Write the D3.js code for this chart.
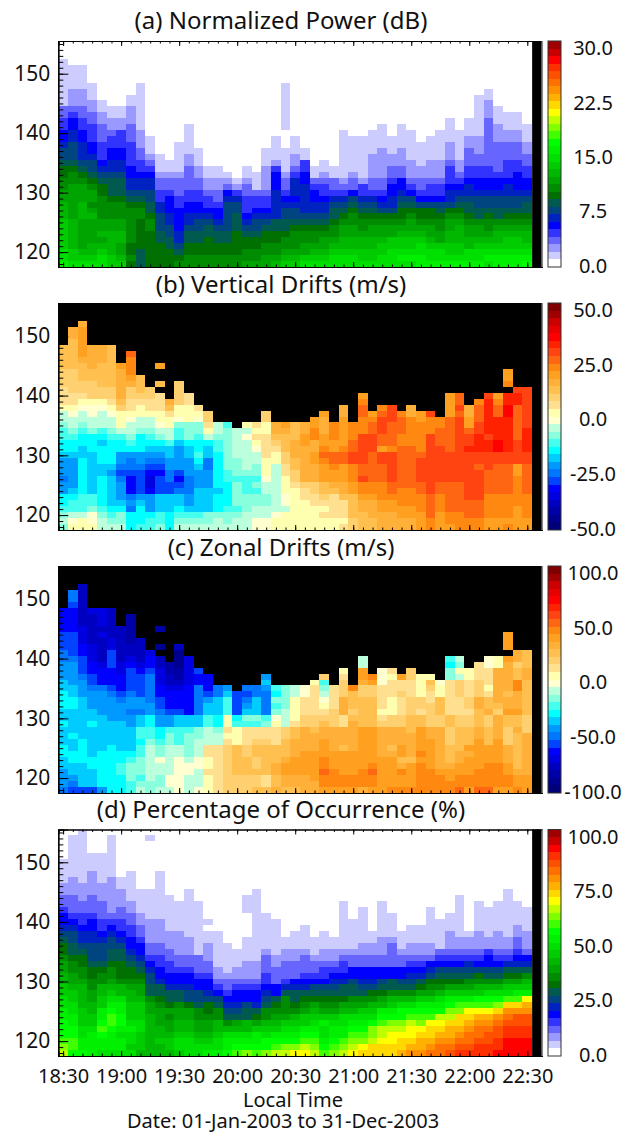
<!DOCTYPE html>
<html>
<head>
<meta charset="utf-8">
<script src="https://d3js.org/d3.v7.min.js"></script>
<style>
	body { margin: 0; background: #fff; }
	text { font-family: "Noto Sans", sans-serif; fill: #111; }
</style>
</head>
<body>
<svg width="630" height="1132"></svg>
<script>
// Each panel: one list per 5 min column (18:30 ... 22:30).
// A list goes from the lowest altitude (118 km) up, entries are the colour bar bin (0-29).
// null = no data inside the column, shorter list = no data above.
var powerBins = [
	[15,14,14,13,13, 13,13,13,12,12, 12,11,11,10,10, 9,9,8,7,7, 6,5,5,4,4, 3,3,1,1,1, 1,1,1,1,1],
	[14,13,13,12,12, 12,12,12,11,11, 11,11,11,11,10, 10,9,8,7,7, 7,6,6,5,5, 4,3,2,2,2, 1,1,1,1],
	[14,13,12,11,11, 11,11,11,12,12, 12,11,11,11,10, 9,8,7,6,6, 6,5,5,4,4, 3,3,2,2,2, 1,1,1,1],
	[14,13,12,12,11, 11,11,11,12,11, 10,11,11,10,9, 8,7,7,6,5, 5,4,4,4,3, 3,2,2,1,1, 1],
	[14,14,13,12,11, 12,11,11,10,10, 10,10,9,9,8, 7,6,5,4,4, 4,3,3,3,2, 2,1,1],
	[13,13,12,12,12, 12,11,11,10,10, 10,9,8,8,8, 7,6,6,5,5, 4,4,3,2,2, 1,1],
	[13,12,11,11,12, 12,11,11,10,10, 10,9,8,8,8, 7,6,6,5,5, 4,4,4,2,2, 1,1],
	[9,10,9,9,10, 10,10,10,10,10, 9,8,7,6,6, 5,5,4,4,4, 4,3,3,3,2, 2,2,1,1],
	[8,8,8,9,9, 9,9,9,10,10, 9,8,7,6,6, 5,4,4,3,3, 2,2,2,1,1, 1,1,1,1,1, 1],
	[9,9,9,9,9, 9,10,10,9,8, 8,7,7,6,6, 5,4,3,2,1, 1,1],
	[9,9,9,9,8, 8,7,7,7,6, 6,4,4,3,3, 2,1,1,1],
	[9,9,9,8,8, 7,7,6,6,5, 5,5,4,3,3, 2,1,1],
	[10,9,8,7,6, 6,5,5,5,5, 4,4,3,3,3, 2,1,1,1,1, 1],
	[10,10,9,9,8, 8,7,6,6,5, 5,4,4,3,3, 3,3,2,2,1, 1,1,1,1],
	[10,10,9,9,8, 8,7,7,6,5, 5,4,4,3,3, 2,2,1,1,1],
	[10,10,9,9,9, 8,8,7,6,5, 4,4,3,2,2, 1,1],
	[10,10,9,9,8, 8,7,6,5,5, 4,3,3,2,2, 1,1],
	[10,10,9,9,8, 8,7,7,7,7, 7,6,5,3,2, 1],
	[10,10,9,9,9, 9,8,8,8,7, 7,6,4,2,1],
	[11,10,10,9,9, 8,7,6,5,4, 4,4,3,3,2, 1,1],
	[11,10,10,9,9, 8,7,7,6,5, 4,4,3,1,1, 1],
	[11,11,10,10,9, 9,8,7,6,5, 4,4,3,2,2, 2,2,1,1,1],
	[12,11,10,10,9, 9,8,8,6,6, 6,6,6,5,5, 5,4,2,1,1, 1,1],
	[13,12,11,10,10, 9,8,8,7,7, 6,5,4,3,3, 2,1,1,1,1, 0,0,0,1,1, 1,1,1,1,1, 1],
	[13,12,11,10,10, 10,9,8,7,7, 6,5,6,6,6, 4,3,2,2,1, 1,1],
	[14,13,11,11,10, 10,9,8,7,6, 6,6,6,6,5, 5,4,4,1,1],
	[14,13,12,11,10, 10,9,8,7,6, 6,5,5,4,3, 1,1],
	[14,13,12,11,11, 10,9,8,7,6, 6,5,4,4,3, 2,1,1],
	[14,14,13,12,11, 10,10,9,8,8, 7,6,4,3,3, 1,1],
	[14,14,13,12,12, 11,11,10,9,8, 7,6,4,3,2, 1,1,1,1,1, 1,1,1],
	[14,14,13,12,12, 11,11,10,10,9, 8,7,5,3,3, 2,1,1,1,1, 1,1],
	[14,13,13,12,12, 11,10,10,9,8, 7,6,4,4,2, 1,1,1,1,1, 1,1],
	[14,13,13,12,12, 11,11,10,9,8, 7,6,4,3,3, 2,2,2,2,1, 1,1,1],
	[14,14,13,13,12, 11,11,10,9,7, 6,5,4,3,3, 2,2,2,2,2, 1,1,1,1],
	[14,14,14,13,13, 11,11,10,9,7, 6,6,5,5,4, 3,3,2,2,1, 1,1],
	[14,15,14,13,13, 12,11,10,9,9, 8,7,6,5,5, 3,3,2,2,2, 1,1,1,1],
	[14,15,14,13,13, 12,11,11,10,9, 8,7,5,4,3, 2,2,2,1,1, 1,1,1],
	[15,15,14,14,13, 12,11,10,9,9, 7,5,4,3,3, 2,2,1,1,1, 1],
	[15,14,14,13,12, 11,11,10,9,9, 7,5,4,4,3, 2,2,2,1,1, 1,1],
	[15,14,14,13,11, 11,10,10,9,8, 7,5,4,4,3, 2,2,2,1,1, 1,1,1],
	[15,14,13,13,12, 12,11,11,10,9, 7,6,6,5,4, 4,4,3,2,2, 2,1,1,1,1],
	[15,14,13,13,12, 12,12,11,10,9, 8,7,6,5,4, 3,2,2,1,1, 1,1,1],
	[15,14,14,12,12, 11,11,10,9,8, 8,7,6,6,5, 4,4,3,3,3, 2,2,1,1,1],
	[15,14,14,13,12, 11,11,10,8,8, 7,7,6,5,5, 4,4,3,3,2, 2,2,1,1,1, 1,1,1,1],
	[14,15,14,13,12, 11,10,10,9,8, 7,7,6,5,5, 4,4,3,3,3, 3,3,3,3,3, 2,2,2,1,1],
	[15,15,14,13,12, 12,11,10,8,8, 7,7,6,5,5, 4,3,3,3,3, 3,2,2,2,1, 1,1],
	[15,15,14,13,13, 12,11,10,9,8, 7,7,6,6,5, 4,4,4,3,3, 3,2,2,1,1, 1],
	[15,15,14,13,13, 12,11,10,9,8, 7,7,6,5,5, 5,4,4,3,3, 3,2,2,1,1, 1],
	[16,15,14,13,12, 12,11,10,9,8, 8,7,6,5,5, 4,4,3,3,2, 2,1,1,1]
];

var verticalBins = [
	[12,13,12,11,10, 10,8,8,7,8, 8,8,9,10,10, 11,11,12,13,13, 15,16,16,16,17, 17,17,18,18,18, 18],
	[15,14,13,11,11, 10,9,8,8,8, 8,8,9,10,10, 11,12,13,13,14, 15,16,16,17,17, 17,17,18,18,18, 18,18,19,19],
	[15,15,13,11,11, 11,10,10,10,10, 10,10,9,9,10, 10,11,12,13,13, 14,15,16,17,17, 18,18,18,19,20, 20,20,20,20,19],
	[15,14,14,12,11, 11,9,9,9,9, 9,9,9,10,10, 10,12,13,13,14, 14,15,17,17,17, 18,18,19,19,19, 19],
	[13,13,12,11,10, 10,10,10,10,9, 9,10,10,10,9, 10,11,13,13,13, 14,15,17,17,18, 18,18,18,19,19, 19],
	[13,12,11,10,9, 9,9,9,9,8, 9,10,10,10,10, 11,12,13,13,14, 15,16,17,17,18, 18,18,18,18,18, 18],
	[13,12,12,10,9, 8,8,8,7,6, 7,8,8,10,10, 11,13,15,15,15, 17,18,19,19,19, 19,19,20],
	[10,10,10,7,8, 7,5,5,5,6, 7,7,8,10,11, 12,13,13,14,15, 16,16,17,17,19, 20,21,21,21,22],
	[11,10,10,10,9, 8,6,6,6,6, 7,8,8,10,10, 10,12,13,13,15, 15,16,17,18,18, 18],
	[11,11,10,8,8, 8,5,4,4,5, 6,7,8,9,10, 11,12,13,13,15, 16,16,17,17],
	[12,11,11,9,9, 9,6,6,6,5, 6,7,8,9,10, 12,13,14,15,15, 16,16,16,null,18, null,null,20],
	[10,10,10,9,9, 9,6,6,7,7, 8,8,9,9,11, 13,13,15,15,16, 18,19],
	[13,12,11,10,9, 9,7,6,5,6, 8,8,8,8,9, 11,11,12,14,15, 15,17,17,17,17],
	[13,12,11,9,8, 8,7,7,7,8, 8,8,9,9,10, 12,12,12,15,15, 15,16,16],
	[13,12,11,9,9, 9,9,8,8,8, 9,10,11,10,10, 11,12,12,14,15, 16],
	[13,12,12,9,9, 9,9,8,8,8, 7,7,9,9,10, 13,15,16,17,17],
	[13,13,12,10,10, 10,9,10,10,10, 10,10,10,11,11, 12,13,13],
	[13,12,12,11,10, 10,10,10,11,11, 12,12,12,12,12, 12,12,11],
	[13,13,12,11,12, 12,12,12,11,12, 12,12,13,13,13, 13,13],
	[13,13,13,12,12, 12,11,11,11,12, 13,13,13,13,13, 14,13,15],
	[14,14,13,13,12, 12,11,12,11,12, 12,13,13,14,15, 16,15,16],
	[14,14,13,13,12, 12,13,13,14,15, 15,15,16,16,16, 16,15,15,17,17],
	[15,15,14,13,13, 13,13,13,13,13, 13,15,15,16,17, 18,19,19],
	[15,15,15,13,14, 14,15,15,15,16, 16,17,17,18,18, 18,19,20],
	[15,15,15,15,15, 15,15,16,17,17, 18,18,19,19,19, 18,18,18],
	[15,15,15,15,15, 16,16,17,19,19, 19,19,19,19,20, 20,19,19],
	[15,15,15,15,16, 16,17,17,19,19, 19,20,20,19,19, 21,21,20,20],
	[15,15,16,15,16, 17,18,18,20,20, 20,21,22,21,20, 20,19,19,19,20],
	[15,15,16,16,16, 16,18,19,20,20, 21,22,22,20,20, 21,21,21],
	[16,15,16,16,16, 18,19,19,20,20, 20,22,22,21,20, 20,20,20,20,19, 19],
	[17,17,18,18,18, 18,20,20,21,21, 21,23,23,22,22, 21,21,21],
	[18,18,18,19,19, 20,21,21,23,22, 22,23,23,23,23, 23,21,21,21,22, 22,21,20],
	[18,18,19,19,19, 20,21,21,22,22, 22,22,22,23,23, 23,22,22,21,20],
	[19,19,19,20,20, 21,21,21,22,22, 22,23,23,20,22, 22,23,23,23,22, 21],
	[19,19,19,20,20, 21,22,22,23,23, 23,23,23,21,22, 22,22,22,23,23, 23],
	[19,19,20,20,21, 21,21,22,22,22, 22,22,22,22,21, 21,22,22,22,21],
	[19,19,20,20,21, 21,21,22,22,22, 22,22,22,22,21, 21,21,21,21,19, 19],
	[20,20,20,21,21, 21,22,22,23,23, 23,23,22,21,21, 21,21,21,20,20],
	[21,21,22,22,22, 22,23,23,23,23, 23,23,23,23,23, 23,21,21,21,23],
	[20,20,20,21,21, 21,22,22,23,23, 23,23,23,23,22, 22,22,21,21],
	[20,21,21,22,22, 22,22,22,23,23, 23,23,23,22,22, 22,22,22,22,20, 20,20,20],
	[21,21,21,22,22, 22,22,22,23,23, 23,23,23,23,23, 23,23,23,23,22, 23,22,22],
	[21,21,22,22,22, 23,23,23,23,23, 23,23,23,24,23, 23,22,20,20,19, 19],
	[21,21,22,22,22, 23,23,23,23,23, 22,23,23,24,24, 24,23,23,22,22, 22,21],
	[20,20,21,21,21, 21,22,22,22,22, 23,23,23,24,24, 23,24,24,24,24, 24,24,23],
	[20,20,21,21,21, 21,22,22,22,22, 22,23,23,25,25, 24,24,24,24,22, 22,21,20],
	[21,20,21,21,21, 21,22,22,22,22, 22,23,23,24,24, 24,24,24,24,25, 25,24,24,null,21, 20,20],
	[20,20,20,20,21, 21,21,21,21,20, 20,23,23,23,23, 22,22,22,22,22, 22,24,24,23],
	[20,20,21,21,21, 21,22,22,22,22, 22,23,23,24,24, 24,24,23,23,23, 23,23,23,23]
];

var zonalBins = [
	[7,8,8,8,9, 9,10,10,9,9, 9,10,9,9,10, 10,10,9,9,8, 8,8,7,7,6, 6,6,5,5,5, 5],
	[6,7,8,9,9, 10,10,9,9,10, 9,9,9,9,10, 10,9,9,8,8, 8,8,7,6,6, 6,6,5,5,5, 5,6,7,7],
	[6,9,9,9,9, 10,10,10,10,9, 9,9,9,9,9, 9,8,8,8,7, 6,6,6,5,5, 4,4,4,3,3, 3,3,3,3,3],
	[6,9,9,9,10, 10,9,9,9,9, 9,10,9,9,8, 8,8,7,6,6, 5,5,4,4,4, 3,3,3,3,3, 4],
	[8,10,10,10,10, 10,10,9,9,9, 9,9,9,8,8, 8,8,7,5,5, 5,4,3,3,3, 3,4,3,4,4, 4],
	[10,10,10,10,10, 10,10,10,9,9, 9,9,8,8,8, 8,7,6,5,5, 5,6,6,6,4, 4,3,3,3,3, 3],
	[10,10,10,11,11, 10,10,9,9,9, 9,9,8,8,8, 7,6,5,5,5, 4,4,3,3,3, 3,3,3],
	[11,11,12,12,12, 11,10,9,9,9, 9,8,8,7,8, 8,7,6,6,6, 6,5,4,3,3, 2,2,2,2,2],
	[13,12,11,12,12, 12,11,11,10,11, 11,9,9,7,8, 8,6,6,6,6, 5,4,3,3,3, 3],
	[12,12,13,13,13, 13,13,13,12,11, 11,10,10,8,8, 7,7,7,7,7, 6,5,5,4],
	[13,12,12,13,13, 14,12,12,11,10, 10,8,8,7,6, 6,5,5,4,4, 4,3,3,null,1, null,null,2],
	[13,14,14,13,13, 13,13,13,12,12, 11,8,8,6,5, 5,5,4,3,3, 2,2],
	[14,14,14,14,14, 14,13,13,11,11, 11,9,9,6,5, 5,5,4,3,2, 2,1,1,1,3],
	[13,13,13,14,14, 13,12,12,12,12, 11,9,9,5,5, 5,5,5,4,4, 4,4,4],
	[14,13,13,13,14, 14,13,13,13,12, 12,9,9,7,7, 7,7,7,5,5, 6],
	[15,15,15,16,15, 15,16,16,13,13, 13,11,11,9,9, 8,6,5,5,5],
	[16,16,16,16,16, 16,16,16,13,13, 12,10,10,9,9, 9,7,7],
	[17,17,17,17,17, 17,17,17,16,15, 16,15,15,11,11, 11,9,8],
	[17,17,17,18,18, 18,18,18,15,15, 15,11,10,6,6, 6,6],
	[17,17,17,18,18, 18,17,17,16,16, 16,11,12,9,8, 7,6,7],
	[18,17,17,18,17, 17,18,18,17,16, 16,11,12,9,9, 9,7,7],
	[18,16,16,18,18, 18,18,18,17,16, 16,12,11,7,7, 7,7,8,9,8],
	[19,18,18,19,19, 18,18,18,16,16, 16,15,14,12,11, 12,10,11],
	[18,19,19,20,20, 19,18,18,18,17, 17,13,13,13,12, 12,12,12],
	[18,19,19,20,20, 20,19,19,19,18, 18,16,15,15,15, 15,13,13],
	[19,19,19,20,20, 20,20,19,19,19, 19,17,17,16,16, 16,14,14],
	[19,19,20,20,20, 20,20,19,19,19, 18,17,17,16,16, 16,16,16,15],
	[20,21,21,22,21, 21,20,20,20,19, 19,18,17,16,15, 14,13,12,11,17],
	[20,21,21,21,20, 20,20,19,19,19, 19,17,17,17,16, 16,16,16],
	[20,21,21,20,20, 20,20,18,19,19, 19,16,16,19,19, 19,17,17,17,16, 15],
	[20,21,21,20,20, 20,20,19,19,19, 19,19,18,17,18, 18,18,21],
	[19,21,21,21,20, 20,20,20,20,20, 20,18,18,18,18, 18,17,17,19,20, 20,13,13],
	[20,21,21,22,21, 20,20,20,20,20, 20,18,18,18,18, 18,17,17,20,21],
	[20,20,20,20,20, 20,19,19,19,19, 19,17,16,15,16, 16,16,16,14,14, 14],
	[21,20,20,20,20, 20,19,18,19,19, 19,17,17,15,15, 15,16,16,16,15, 16],
	[21,20,20,21,19, 18,20,20,19,19, 19,17,17,16,16, 16,17,16,16,20],
	[21,20,20,20,20, 18,19,19,19,19, 18,18,18,17,17, 17,16,16,16,17, 17],
	[21,21,21,21,21, 20,21,20,20,20, 20,18,18,16,17, 17,15,15,15,15],
	[21,21,21,21,20, 20,20,20,20,19, 19,17,17,17,17, 16,16,17,18,15],
	[21,21,21,20,19, 19,19,19,19,19, 19,17,17,18,18, 18,15,15,14],
	[21,21,20,20,19, 18,18,18,17,17, 17,18,18,16,16, 16,16,16,16,12, 12,10,11],
	[22,21,21,20,20, 19,19,18,18,18, 18,17,17,16,16, 16,17,17,17,13, 15,12,13],
	[20,21,21,20,20, 20,19,20,18,18, 18,17,17,16,17, 17,16,16,16,15, 15],
	[22,21,21,21,20, 20,20,20,20,19, 19,18,18,18,19, 19,17,17,17,16, 16,16],
	[22,21,21,21,21, 20,20,20,18,18, 18,17,17,19,18, 18,16,15,16,16, 16,14,14],
	[20,21,21,21,21, 20,20,20,20,19, 19,19,19,17,18, 19,19,19,19,19, 19,15,15],
	[20,21,21,20,20, 19,19,19,17,17, 17,18,18,20,19, 19,18,19,19,19, 19,19,20,null,20, 20,20],
	[21,20,20,19,18, 18,18,18,18,18, 19,18,18,20,19, 19,19,21,21,18, 18,17,19,19],
	[20,20,20,19,19, 19,19,19,19,19, 17,17,17,18,18, 18,18,18,18,19, 19,18,18,18]
];

var occurrenceBins = [
	[19,18,17,16,16, 16,15,15,14,14, 13,13,12,12,11, 11,10,9,9,8, 7,6,5,5,4, 3,3,2,2,1, 1,1,1],
	[16,17,17,16,16, 15,15,14,14,13, 13,12,11,11,10, 10,9,8,8,7, 7,6,5,4,3, 3,3,2,2,2, 1,1,1,1,1, 1,1],
	[16,15,15,14,14, 13,13,13,12,12, 12,12,11,10,10, 9,9,8,7,6, 6,5,4,4,3, 3,2,2,2,1, 1,1,1,1,1, 1,1,1],
	[15,15,15,15,14, 13,13,12,12,11, 11,10,10,9,9, 8,7,7,7,6, 6,5,5,4,3, 3,3,2,2,2, 2,1,1,1],
	[14,15,15,16,17, 16,15,15,13,13, 12,12,10,10,9, 8,7,7,7,6, 5,4,4,3,3, 3,2,2,2,1, 1,1,1,1],
	[14,15,15,15,16, 17,17,16,15,14, 13,12,11,10,10, 9,8,8,7,7, 6,5,4,3,2, 2,2,2,2,2, 1,1,1,1,1, 1,1],
	[14,15,15,14,15, 16,16,15,15,14, 12,12,10,9,9, 9,8,8,7,6, 5,4,4,3,3, 2,2,2,1,1],
	[14,13,14,14,15, 14,13,13,13,12, 12,11,10,9,9, 8,7,6,5,5, 4,4,3,3,2, 2,1,1,1,1, 1],
	[12,13,13,13,14, 14,13,13,13,12, 11,11,10,9,8, 7,6,5,5,4, 3,3,2,2,1, 1,1,1],
	[12,12,12,12,12, 12,12,11,11,10, 8,8,7,7,6, 5,4,3,3,2, 2,2,2,1,1, 1,1,1,0,0, 0,0,0,0,0, 0,1],
	[12,12,13,12,12, 11,11,11,10,9, 8,8,6,5,5, 4,4,3,3,2, 2,2,2,1,1, 1,1,1,1,1, 1],
	[12,13,13,12,11, 11,10,11,9,8, 8,6,5,5,4, 4,3,3,2,2, 2,1,1,1,1, 1,1],
	[13,14,14,13,12, 12,11,11,10,8, 8,6,5,5,4, 3,3,2,2,2, 2,1,1,1,1, 1],
	[14,14,14,13,12, 12,11,11,9,7, 7,6,5,5,4, 3,3,2,2,2, 1,1,1,1,1, 1,1,1],
	[14,14,13,12,11, 11,10,10,8,7, 7,5,5,4,3, 3,3,1,1,1, 1,1,1,1,1, 1],
	[15,14,13,12,11, 11,10,9,9,7, 6,5,5,4,3, 3,2,2,2,1, 1,0,1],
	[15,14,14,13,12, 12,10,10,8,7, 5,4,3,2,2, 1,1,1,1,1, 1],
	[16,15,15,14,12, 10,8,7,6,5, 4,3,3,2,1, 1,1,1,1],
	[17,16,15,14,12, 11,8,7,6,5, 5,4,3,2,2, 1,1,1],
	[18,16,15,14,12, 12,8,8,7,5, 5,4,3,2,2, 2,1,1,1,1, 0,0,0,0,1, 1,1],
	[17,16,15,15,13, 11,9,8,6,5, 5,4,3,2,2, 2,1,1,1,1, 1,1,1,1,1, 1,1,1],
	[18,16,16,14,13, 12,10,10,8,7, 6,5,4,4,3, 3,3,2,1,1, 1,1,1,1],
	[19,17,16,15,13, 12,11,10,9,8, 5,5,3,3,3, 2,2,1,1,1, 1,1,1],
	[19,18,16,15,14, 13,11,10,10,10, 8,6,4,3,3, 3,2,2,1,1],
	[20,18,16,15,14, 13,12,10,9,8, 8,6,5,3,3, 3,2,2,1,1, 1],
	[20,19,17,16,15, 13,13,11,10,9, 8,6,5,4,3, 3,3,2,1,1, 1,1],
	[19,18,17,16,15, 14,13,12,11,9, 8,7,5,4,3, 3,2,1,1,1],
	[17,16,15,14,14, 15,13,11,10,9, 8,7,5,4,4, 3,2,2,1,1, 1],
	[18,17,16,15,15, 14,13,11,10,9, 8,7,6,5,4, 3,2,2,1,1],
	[19,18,17,15,15, 14,14,12,11,9, 8,8,6,5,4, 4,3,2,1,1, 1,1,1,1,1, 1],
	[20,19,18,17,16, 15,14,12,11,10, 8,8,7,5,5, 3,3,2,1,1, 1,1,1],
	[21,20,18,17,16, 15,14,13,11,10, 8,7,6,5,5, 3,3,2,2,1, 1,1,1,1,1],
	[21,21,19,18,18, 16,14,13,12,10, 9,7,6,5,5, 3,3,2,2,1, 1],
	[21,21,20,19,19, 17,16,15,12,11, 9,8,7,5,5, 3,3,2,2,2, 1,1,1,1,1, 1],
	[21,21,20,20,19, 18,16,15,13,12, 10,8,8,5,5, 3,3,3,3,2, 1,1,1,1],
	[22,21,21,20,19, 18,16,16,14,12, 10,8,7,5,5, 3,3,2,1,1, 1],
	[23,22,21,20,20, 19,17,16,14,12, 10,8,7,6,5, 4,3,2,2,1, 1,1],
	[23,22,22,21,20, 18,17,16,15,13, 11,9,8,6,5, 4,3,2,2,1, 1,1],
	[24,23,22,21,21, 20,17,16,15,13, 11,10,9,7,6, 5,3,2,2,1, 1,1,1,1,1],
	[24,24,23,22,21, 20,19,16,15,14, 12,10,9,8,7, 5,4,3,1,1, 1,1,1],
	[25,24,23,22,22, 21,19,18,16,15, 13,11,9,8,7, 5,4,3,2,2, 2,1,1,1],
	[26,25,24,23,22, 21,21,18,17,15, 13,11,9,8,7, 5,4,3,2,2, 1,1,1,1,1, 1,1],
	[26,25,24,24,23, 22,21,20,17,15, 13,11,10,8,7, 6,4,3,2,2, 1],
	[26,26,25,24,24, 23,22,20,17,16, 13,12,10,9,7, 5,4,3,2,2, 2,1,1,1,1, 1],
	[26,26,25,25,24, 23,22,20,17,16, 14,12,10,8,7, 5,5,4,2,2, 1,1,1,1,1],
	[27,26,26,25,25, 24,23,21,18,16, 14,12,10,8,7, 5,4,3,2,2, 2,1,1,1,1, 1],
	[27,27,27,26,26, 25,24,23,21,17, 14,13,11,9,8, 6,4,3,2,2, 1,1,1,1,1, 1,1,1],
	[27,27,27,26,26, 25,25,23,21,17, 15,13,11,9,8, 6,5,4,3,3, 2,2,1,1,1, 1],
	[27,27,27,26,26, 25,25,23,22,20, 15,13,12,10,8, 6,5,3,2,2, 2,1,1,1,1]
];

var panelTitles = ["(a) Normalized Power (dB)", "(b) Vertical Drifts (m/s)", "(c) Zonal Drifts (m/s)", "(d) Percentage of Occurrence (%)"];
var barLabelsA = ["0.0", "7.5", "15.0", "22.5", "30.0"];
var barLabelsB = ["-50.0", "-25.0", "0.0", "25.0", "50.0"];
var barLabelsC = ["-100.0", "-50.0", "0.0", "50.0", "100.0"];
var barLabelsD = ["0.0", "25.0", "50.0", "75.0", "100.0"];
var timeTicks = [1110, 1140, 1170, 1200, 1230, 1260, 1290, 1320, 1350];  // minutes of the day
var timeLabels = ["18:30", "19:00", "19:30", "20:00", "20:30", "21:00", "21:30", "22:00", "22:30"];
var altTicks = [120, 130, 140, 150];

var greenPalette = ["#ffffff","#ccccff","#9999ff","#6666ff","#3333ff","#0000ff","#0022c0","#004480","#005a50","#007000",
	"#008c00","#00a400","#00b800","#00cc00","#00e000","#00f000","#00ff00","#40ff00","#80ff00","#c0ff00",
	"#ffff00","#ffd800","#ffb000","#ff9000","#ff7000","#ff5000","#ff3000","#ff0000","#c80000","#a00000"];
var driftPalette = ["#000078","#000090","#0000a8","#0000c0","#0000e0","#0000ff","#0044ff","#0077ff","#0099ff","#00ccff",
	"#00ffff","#44ffee","#88ffdd","#bbffdd","#ffffd0","#ffffb0","#ffe090","#ffd070","#ffc050","#ffb038",
	"#ffa020","#ff8811","#ff6611","#ff4411","#ff2200","#ff0000","#e60000","#cc0000","#a00000","#800000"];

var panels = [
	{ bins: powerBins, palette: greenPalette, labels: barLabelsA, top: 41, bottom: 267, titleY: 29, bg: "#fff" },
	{ bins: verticalBins, palette: driftPalette, labels: barLabelsB, top: 303, bottom: 530, titleY: 293, bg: "#000" },
	{ bins: zonalBins, palette: driftPalette, labels: barLabelsC, top: 566, bottom: 793, titleY: 556, bg: "#000" },
	{ bins: occurrenceBins, palette: greenPalette, labels: barLabelsD, top: 829.5, bottom: 1056, titleY: 818, bg: "#fff" }
];

var svg = d3.select("svg");
var left = 58.3, right = 541.8, firstTime = 1110, step = 5;

// 50 columns wide, the last one (22:35) holds only fill
var xScale = d3.scaleLinear().domain([firstTime - step / 2, 1355 + step / 2]).range([left, right]);
var minorTimes = d3.range(0, 50).map(i => firstTime + i * step);
var minorAlts = d3.range(118, 156);

panels.forEach(function(p, idx){
	var g = svg.append("g");
	var yScale = d3.scaleLinear().domain([117.5, 155.5]).range([p.bottom, p.top]);
	var color = d3.scaleQuantize().domain([0, 30]).range(p.palette);

	g.append("rect")
		.attr("x", left).attr("y", p.top)
		.attr("width", right - left).attr("height", p.bottom - p.top)
		.attr("fill", p.bg);

	// fill column at the right end
	g.append("rect")
		.attr("x", xScale(1355 - step / 2)).attr("y", p.top)
		.attr("width", right - xScale(1355 - step / 2)).attr("height", p.bottom - p.top)
		.attr("fill", "#000");

	// Building the cells
	var cells = [];
	p.bins.forEach(function(col, i){
		col.forEach(function(b, k){
			if(b !== null) cells.push({ t: firstTime + i * step, alt: 118 + k, bin: b });
		});
	});
	g.selectAll(".cell")
		.data(cells)
		.enter().append("rect")
		.attr("class", "cell")
		.attr("shape-rendering", "crispEdges")
		.attr("x", d => xScale(d.t - step / 2))
		.attr("y", d => yScale(d.alt + 0.5))
		.attr("width", xScale(firstTime + step) - xScale(firstTime))
		.attr("height", yScale(117.5) - yScale(118.5))
		.attr("fill", d => color(d.bin));

	// Placing the axes, ticks point inward
	function ticks(axis, tr){
		var a = g.append("g").attr("transform", tr).call(axis);
		a.select(".domain").attr("stroke", "#000").attr("stroke-width", 1.2);
		a.selectAll("line").attr("stroke", "#000");
		return a;
	}
	ticks(d3.axisLeft(yScale).tickValues(minorAlts).tickSize(-5).tickFormat(""), "translate(" + left + ",0)");
	var yAxis = ticks(d3.axisLeft(yScale).tickValues(altTicks).tickSize(-10).tickPadding(8), "translate(" + left + ",0)");
	yAxis.selectAll("text").style("font-size", "21px").attr("fill", "#111");

	ticks(d3.axisBottom(xScale).tickValues(minorTimes).tickSize(-2.5).tickFormat(""), "translate(0," + p.bottom + ")");
	var xAxis = ticks(d3.axisBottom(xScale).tickValues(timeTicks).tickSize(-5).tickPadding(13)
		.tickFormat((d, i) => idx == 3 ? timeLabels[i] : ""), "translate(0," + p.bottom + ")");
	xAxis.selectAll("text").style("font-size", "20px").attr("fill", "#111");

	ticks(d3.axisTop(xScale).tickValues(minorTimes).tickSize(-2.5).tickFormat(""), "translate(0," + p.top + ")");
	ticks(d3.axisTop(xScale).tickValues(timeTicks).tickSize(-5).tickFormat(""), "translate(0," + p.top + ")");

	g.append("line")
		.attr("x1", right + 0.5).attr("x2", right + 0.5)
		.attr("y1", p.top).attr("y2", p.bottom)
		.attr("stroke", "#8a8a8a").attr("stroke-width", 1.5);

	g.append("text")
		.attr("x", 281).attr("y", p.titleY)
		.attr("text-anchor", "middle")
		.style("font-size", "24px")
		.text(panelTitles[idx]);

	// Colour bar
	var barY = d3.scaleBand().domain(d3.range(30)).range([p.bottom, p.top]);
	g.selectAll(".band")
		.data(d3.range(30))
		.enter().append("rect")
		.attr("class", "band")
		.attr("shape-rendering", "crispEdges")
		.attr("x", 548).attr("width", 13)
		.attr("y", d => barY(d))
		.attr("height", barY.bandwidth())
		.attr("fill", d => p.palette[d]);
	g.append("rect")
		.attr("x", 548).attr("y", p.top)
		.attr("width", 13).attr("height", p.bottom - p.top)
		.attr("fill", "none").attr("stroke", "#333").attr("stroke-width", 1);

	var labelY = d3.scalePoint().domain(p.labels).range([p.bottom - 1.5, p.top + 7]);
	g.selectAll(".barLabel")
		.data(p.labels)
		.enter().append("text")
		.attr("class", "barLabel")
		.attr("x", 593)
		.attr("y", d => labelY(d))
		.attr("dy", "0.36em")
		.attr("text-anchor", "middle")
		.style("font-size", "20px")
		.text(d => d);
});

svg.append("text").attr("x", 293).attr("y", 1107).attr("text-anchor", "middle")
	.style("font-size", "20px").text("Local Time");
svg.append("text").attr("x", 283).attr("y", 1128).attr("text-anchor", "middle")
	.style("font-size", "20px").text("Date: 01-Jan-2003 to 31-Dec-2003");
</script>
</body>
</html>
